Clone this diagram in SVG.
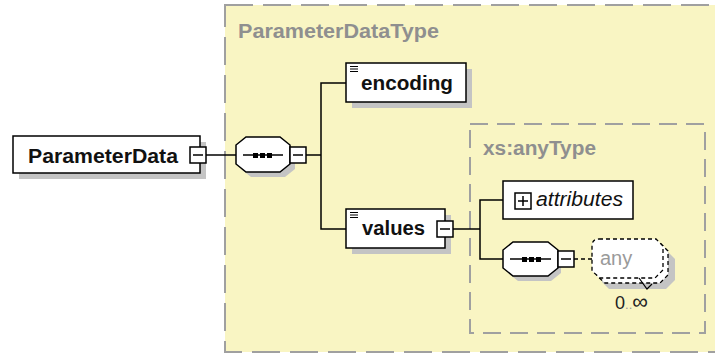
<svg xmlns="http://www.w3.org/2000/svg" width="715" height="353" viewBox="0 0 715 353">
<defs>
<style>
.bg{fill:#f9f5c3;stroke:#a0a0a0;stroke-width:2;stroke-dasharray:28 10}
.bg2{fill:none;stroke:#a0a0a0;stroke-width:2;stroke-dasharray:18 9}
.box{fill:#fff;stroke:#000;stroke-width:1.5}
.sh{fill:#c4c4c4;stroke:none}
.dbox{fill:#fff;stroke:#000;stroke-width:1.3;stroke-dasharray:4 3}
.ln{fill:none;stroke:#000;stroke-width:1.5}
.name{font-family:"Liberation Sans",Arial,sans-serif;font-weight:bold;font-size:20px;fill:#111}
.ttl{font-family:"Liberation Sans",Arial,sans-serif;font-weight:bold;font-size:20px;fill:#8f8f8f}
.it{font-family:"Liberation Sans",Arial,sans-serif;font-style:italic;font-size:20px;fill:#111}
.any{font-family:"Liberation Sans",Arial,sans-serif;font-size:20px;fill:#9a9a9a}
.occ{font-family:"Liberation Sans",Arial,sans-serif;font-size:18px;fill:#222}
</style>
<g id="minus"><rect x="0" y="0" width="16" height="16" class="box"/><path d="M3 8H13" class="ln"/></g>
<g id="icon"><path d="M0 0.5H8M0 3H8M0 5.5H8" stroke="#000" stroke-width="1.2" fill="none"/></g>
</defs>

<g id="ParameterDataType">
<rect x="225" y="5" width="500" height="347" class="bg"/>
<text x="238" y="38" class="ttl" textLength="201" lengthAdjust="spacingAndGlyphs">ParameterDataType</text>
</g>

<g id="xsAnyType">
<rect x="470" y="124" width="235" height="209" class="bg2"/>
<text x="483" y="155" class="ttl" textLength="113" lengthAdjust="spacingAndGlyphs">xs:anyType</text>
</g>

<g id="connectors">
<path d="M205 155H236" class="ln"/>
<path d="M306 155H321M346 83H321V229H346" class="ln"/>
<path d="M453 229H480M503 200H480V259H503" class="ln"/>
<path d="M574 259H592" fill="none" stroke="#000" stroke-width="1.3" stroke-dasharray="4 3"/>
</g>

<g id="ParameterData">
<rect x="19" y="142" width="187" height="37" class="sh"/>
<rect x="13" y="136" width="187" height="37" class="box"/>
<text x="28" y="163" class="name" textLength="150" lengthAdjust="spacingAndGlyphs">ParameterData</text>
<use href="#minus" x="190" y="147"/>
</g>

<g id="sequence1">
<path d="M251 142H285L295 150V169L285 177H251L241 169V150Z" class="sh"/>
<path d="M246 137H280L290 145V164L280 172H246L236 164V145Z" class="box"/>
<path d="M243 155H283" class="ln"/>
<rect x="253" y="153" width="5" height="5" fill="#000"/>
<rect x="260" y="153" width="5" height="5" fill="#000"/>
<rect x="267" y="153" width="5" height="5" fill="#000"/>
<use href="#minus" x="290" y="147"/>
</g>

<g id="encoding">
<rect x="352" y="69" width="120" height="39" class="sh"/>
<rect x="346" y="63" width="120" height="39" class="box"/>
<use href="#icon" x="350" y="66"/>
<text x="361" y="90" class="name" textLength="92" lengthAdjust="spacingAndGlyphs">encoding</text>
</g>

<g id="values">
<rect x="352" y="215" width="99" height="39" class="sh"/>
<rect x="346" y="209" width="99" height="39" class="box"/>
<use href="#icon" x="350" y="212"/>
<text x="362" y="235" class="name" textLength="63" lengthAdjust="spacingAndGlyphs">values</text>
<use href="#minus" x="437" y="221"/>
</g>

<g id="attributes">
<rect x="503" y="181" width="130" height="38" class="box"/>
<rect x="515" y="193" width="16" height="16" class="box"/>
<path d="M518 201H528M523 196V206" class="ln"/>
<text x="536" y="206" class="it" textLength="87" lengthAdjust="spacingAndGlyphs">attributes</text>
</g>

<g id="sequence2">
<path d="M518 247H551L561 255V273L551 281H518L508 273V255Z" class="sh"/>
<path d="M513 242H548L558 250V268L548 276H513L503 268V250Z" class="box"/>
<path d="M510 259H551" class="ln"/>
<rect x="522" y="257" width="5" height="5" fill="#000"/>
<rect x="529" y="257" width="5" height="5" fill="#000"/>
<rect x="536" y="257" width="5" height="5" fill="#000"/>
<use href="#minus" x="558" y="251"/>
</g>

<g id="any">
<path d="M609 250H666L675 259V280L666 289H609L602 282V257Z" class="sh"/>
<path d="M604 244H661L668 251V275L660 283H605L597 276V251Z" class="dbox"/>
<path d="M599 239H656L663 246V270L655 278H600L592 271V246Q592 239 599 239Z" class="dbox"/>
<path d="M639 278L647 289L652 284" fill="none" stroke="#000" stroke-width="1.2"/>
<text x="600" y="265" class="any">any</text>
<text x="615" y="309" class="occ">0<tspan fill="#9a9a9a" font-size="13">..</tspan><tspan font-size="22">∞</tspan></text>
</g>
</svg>
